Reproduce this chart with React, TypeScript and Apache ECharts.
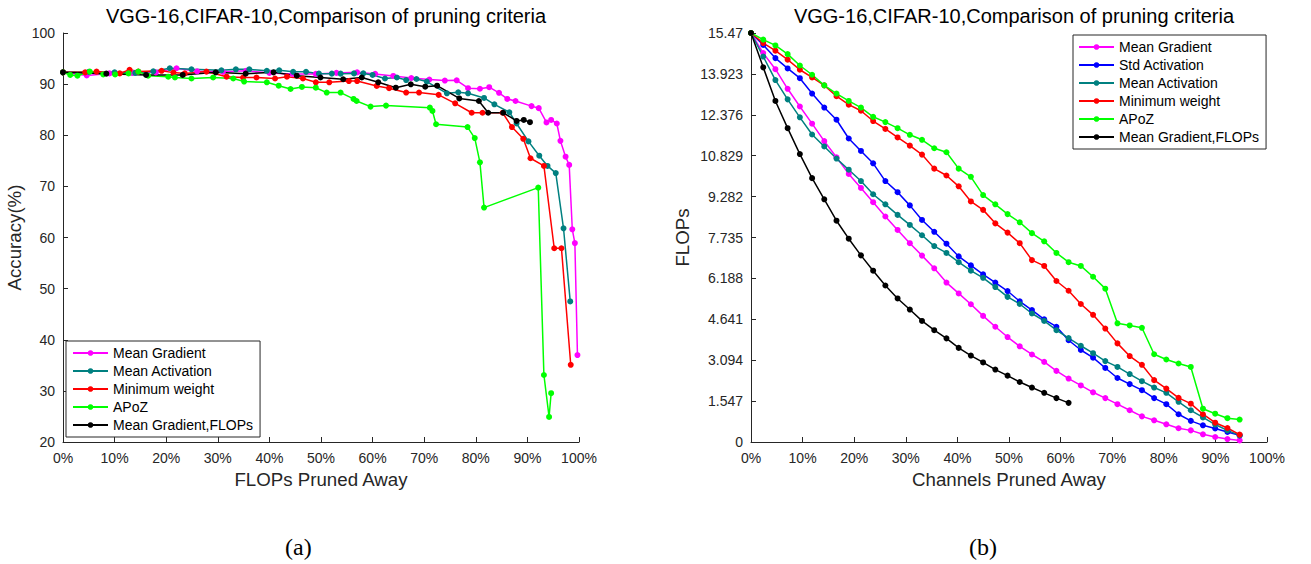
import React, { useEffect, useRef } from "react";
import * as echarts from "echarts";

// ---------- Left chart (a): accuracy vs FLOPs pruned away ----------
const leftSeriesNames = ["Mean Gradient", "Mean Activation", "Minimum weight", "APoZ", "Mean Gradient,FLOPs"];

const leftMeanGradient: number[][] = [
  [0, 92.3], [4.6, 91.7], [9, 92.1], [13.5, 92.2], [18, 92.3], [22, 93.1], [26, 92.5], [31, 92.4], [35.5, 92.6],
  [40, 92.2], [44.5, 92.0], [49, 92.0], [53, 92.2], [57, 92.3], [60.5, 92.0], [64, 91.6], [67.5, 91.2], [71, 90.9],
  [74, 90.7], [76.3, 90.75], [78.5, 89.2], [80.8, 89.1], [82.6, 89.4], [84.5, 88.3], [86.1, 87.1], [87.7, 86.7],
  [90.8, 85.7], [92.2, 85.3], [93.7, 82.5], [94.6, 83.0], [95.7, 82.3], [96.4, 78.9], [97.4, 75.8], [98.1, 74.2],
  [98.7, 61.6], [99.2, 58.9], [99.7, 37.0],
];
const leftMeanActivation: number[][] = [
  [0, 92.3], [5, 92.4], [10, 92.3], [14, 92.2], [17.5, 92.5], [20.7, 93.1], [24.9, 92.9], [30.7, 92.7], [33.5, 92.9],
  [36.1, 92.9], [39.5, 92.6], [41.9, 92.7], [44.6, 92.4], [47.1, 92.4], [49.6, 92.05], [52.1, 92.05], [53.8, 92.05],
  [56.4, 92.1], [58.2, 92.1], [60.0, 91.8], [62.4, 91.1], [64.7, 91.3], [66.5, 90.8], [68.5, 91.0], [70.5, 90.5],
  [74.4, 88.2], [76.6, 88.4], [78.5, 88.2], [81.6, 87.3], [83.6, 86.05], [86.5, 84.5], [87.9, 82.3], [90.2, 78.8],
  [92.3, 76.0], [93.9, 74.0], [95.5, 72.6], [97.0, 61.8], [98.3, 47.5],
];
const leftMinimumWeight: number[][] = [
  [0, 92.3], [4.3, 92.3], [6.5, 92.45], [11.0, 92.1], [12.9, 92.8], [14.6, 92.45], [19.1, 92.6], [21.4, 92.25],
  [23.6, 92.1], [27.8, 92.45], [31.7, 91.45], [34.9, 91.3], [37.5, 91.3], [41.1, 91.1], [43.4, 91.45], [46.5, 91.1],
  [49.0, 90.35], [51.6, 90.35], [55.4, 90.6], [57.0, 90.6], [60.8, 89.65], [63.2, 89.2], [66.5, 88.35], [69.0, 88.35],
  [72.8, 87.9], [76.0, 86.25], [79.2, 84.4], [81.3, 84.4], [85.2, 84.4], [87.0, 81.6], [89.2, 79.3], [90.6, 75.5],
  [93.2, 74.0], [95.2, 57.9], [96.6, 57.9], [98.4, 35.1],
];
const leftAPoZ: number[][] = [
  [0, 92.3], [1.4, 91.8], [2.8, 91.65], [5.2, 92.45], [7.8, 91.9], [10.1, 91.9], [12.7, 92.1], [14.6, 92.45],
  [16.5, 91.65], [20.4, 91.45], [21.7, 91.3], [24.9, 91.1], [29.1, 91.3], [33.0, 91.1], [35.1, 90.5], [39.5, 90.35],
  [41.8, 89.7], [44.1, 89.05], [46.3, 89.45], [49.0, 89.3], [51.1, 88.35], [53.8, 88.35], [56.3, 87.1], [56.9, 86.7],
  [59.6, 85.6], [62.6, 85.8], [71.1, 85.4], [71.6, 84.75], [72.3, 82.15], [78.4, 81.6], [79.8, 79.45], [80.8, 74.7],
  [81.6, 65.85], [92.1, 69.75], [93.2, 33.1], [94.2, 24.9], [94.6, 29.55],
];
const leftMeanGradientFlops: number[][] = [
  [0, 92.3], [8.4, 92.05], [16.1, 91.8], [23.2, 91.8], [29.6, 92.3], [35.4, 92.05], [40.8, 92.3], [45.3, 91.65],
  [49.9, 91.3], [54.3, 90.95], [57.9, 91.3], [61.1, 90.35], [64.5, 89.3], [67.4, 89.97], [70.2, 89.5], [72.5, 89.7],
  [76.8, 87.2], [80.6, 86.7], [82.4, 84.4], [85.3, 84.4], [87.9, 82.8], [89.3, 83.0], [90.5, 82.55],
];

// ---------- Right chart (b): FLOPs vs channels pruned away ----------
const rightSeriesNames = ["Mean Gradient", "Std Activation", "Mean Activation", "Minimum weight", "APoZ", "Mean Gradient,FLOPs"];

const channelsPct = [
  0, 2.37, 4.73, 7.1, 9.47, 11.84, 14.2, 16.57, 18.94, 21.31, 23.67, 26.04, 28.41, 30.78, 33.14, 35.51, 37.88, 40.25,
  42.61, 44.98, 47.35, 49.72, 52.08, 54.45, 56.82, 59.19, 61.55, 63.92, 66.29, 68.66, 71.02, 73.39, 75.76, 78.13,
  80.49, 82.86, 85.23, 87.59, 89.96, 92.33, 94.7,
];
const rightMeanGradient = [
  15.47, 14.71, 14.1, 13.36, 12.69, 12.04, 11.38, 10.77, 10.14, 9.61, 9.07, 8.53, 8.02, 7.52, 7.05, 6.57, 6.03, 5.62,
  5.21, 4.77, 4.36, 3.97, 3.62, 3.31, 3.03, 2.69, 2.4, 2.14, 1.88, 1.66, 1.43, 1.2, 0.97, 0.82, 0.67, 0.52, 0.44,
  0.29, 0.19, 0.11, 0.06,
];
const rightStdActivation = [
  15.47, 15.02, 14.52, 14.13, 13.76, 13.18, 12.65, 12.19, 11.48, 11.01, 10.54, 9.87, 9.45, 8.95, 8.4, 7.95, 7.5, 7.02,
  6.68, 6.34, 6.03, 5.71, 5.32, 4.99, 4.64, 4.36, 3.85, 3.48, 3.19, 2.8, 2.42, 2.19, 1.96, 1.66, 1.43, 1.05, 0.8,
  0.63, 0.51, 0.38, 0.25,
];
const rightMeanActivation = [
  15.47, 14.58, 13.69, 12.96, 12.28, 11.63, 11.18, 10.72, 10.3, 9.87, 9.37, 8.99, 8.59, 8.21, 7.82, 7.41, 7.15, 6.8,
  6.48, 6.21, 5.86, 5.49, 5.22, 4.86, 4.58, 4.23, 3.93, 3.64, 3.36, 3.06, 2.84, 2.57, 2.3, 2.06, 1.86, 1.52, 1.2,
  0.93, 0.66, 0.44, 0.25,
];
const rightMinimumWeight = [
  15.47, 15.09, 14.8, 14.46, 14.08, 13.79, 13.49, 13.08, 12.76, 12.53, 12.14, 11.84, 11.52, 11.21, 10.87, 10.34,
  10.08, 9.67, 9.1, 8.78, 8.27, 7.92, 7.52, 6.88, 6.66, 6.09, 5.72, 5.22, 4.81, 4.29, 3.73, 3.25, 2.92, 2.34, 2.02,
  1.67, 1.45, 1.05, 0.73, 0.53, 0.28,
];
const rightAPoZ = [
  15.47, 15.22, 15.0, 14.67, 14.24, 13.89, 13.49, 13.18, 12.9, 12.65, 12.3, 12.1, 11.87, 11.62, 11.43, 11.11, 10.96,
  10.34, 10.03, 9.34, 8.99, 8.62, 8.31, 7.9, 7.59, 7.15, 6.8, 6.66, 6.25, 5.8, 4.49, 4.41, 4.32, 3.32, 3.12, 2.97,
  2.84, 1.26, 1.07, 0.9, 0.85,
];
const rightMeanGradientFlops = [
  15.47, 14.17, 12.9, 11.87, 10.89, 9.98, 9.18, 8.37, 7.69, 7.06, 6.48, 5.92, 5.43, 5.01, 4.58, 4.23, 3.92, 3.56,
  3.27, 3.01, 2.74, 2.51, 2.27, 2.06, 1.86, 1.66, 1.48,
];

const titleText = "VGG-16,CIFAR-10,Comparison of pruning criteria";

const COLORS: Record<string, string> = {
  "Mean Gradient": "#ff00ff",
  "Std Activation": "#0000ff",
  "Mean Activation": "#008080",
  "Minimum weight": "#ff0000",
  APoZ: "#00ff00",
  "Mean Gradient,FLOPs": "#000000",
};

const FONT = "'Liberation Sans', Arial, Helvetica, sans-serif";
const AXIS_COLOR = "#262626";

function zipX(xs: number[], ys: number[]): number[][] {
  return ys.map((y, i) => [xs[i], y]);
}

function lineSeries(name: string, data: number[][], idx: number) {
  return {
    name,
    type: "line",
    xAxisIndex: idx,
    yAxisIndex: idx,
    data,
    symbol: "circle",
    symbolSize: 6,
    showSymbol: true,
    color: COLORS[name],
    lineStyle: { width: 1.5, color: COLORS[name] },
    itemStyle: { color: COLORS[name] },
    emphasis: { disabled: true },
  };
}

function baseAxis(extra: any) {
  return {
    axisLine: { show: true, onZero: false, lineStyle: { color: AXIS_COLOR, width: 1 } },
    axisTick: { show: true, inside: true, length: 5, lineStyle: { color: AXIS_COLOR } },
    splitLine: { show: false },
    axisLabel: { color: AXIS_COLOR, fontSize: 14, fontFamily: FONT, margin: 8 },
    nameTextStyle: { color: AXIS_COLOR, fontSize: 18.7, fontFamily: FONT },
    nameLocation: "middle",
    ...extra,
  };
}

export default function App() {
  const ref = useRef<HTMLDivElement>(null);

  useEffect(() => {
    if (!ref.current) return;
    const chart = echarts.init(ref.current, undefined, { renderer: "svg" });

    const titleStyle = { fontSize: 20, fontWeight: "normal", color: "#000", fontFamily: FONT };

    const option: any = {
      animation: false,
      backgroundColor: "#ffffff",
      textStyle: { fontFamily: FONT },
      title: [
        { text: titleText, left: 321, top: 1, textAlign: "center", textStyle: titleStyle },
        { text: titleText, left: 1009, top: 1, textAlign: "center", textStyle: titleStyle },
      ],
      grid: [
        { left: 63, top: 33, width: 516, height: 409, containLabel: false },
        { left: 751, top: 33, width: 516, height: 409, containLabel: false },
      ],
      xAxis: [
        baseAxis({
          type: "value",
          gridIndex: 0,
          min: 0,
          max: 100,
          interval: 10,
          name: "FLOPs Pruned Away",
          nameGap: 28,
          axisLabel: { color: AXIS_COLOR, fontSize: 14, fontFamily: FONT, margin: 9, formatter: "{value}%" },
        }),
        baseAxis({
          type: "value",
          gridIndex: 1,
          min: 0,
          max: 100,
          interval: 10,
          name: "Channels Pruned Away",
          nameGap: 28,
          axisLabel: { color: AXIS_COLOR, fontSize: 14, fontFamily: FONT, margin: 9, formatter: "{value}%" },
        }),
      ],
      yAxis: [
        baseAxis({
          type: "value",
          gridIndex: 0,
          min: 20,
          max: 100,
          interval: 10,
          name: "Accuracy(%)",
          nameGap: 39,
        }),
        baseAxis({
          type: "value",
          gridIndex: 1,
          min: 0,
          max: 15.47,
          interval: 1.547,
          name: "FLOPs",
          nameGap: 59,
          axisLabel: {
            color: AXIS_COLOR,
            fontSize: 14,
            fontFamily: FONT,
            margin: 8,
            formatter: (v: number) => (v === 0 ? "0" : String(parseFloat(v.toFixed(3)))),
          },
        }),
      ],
      legend: [
        {
          data: leftSeriesNames,
          left: 66,
          top: 341,
          orient: "vertical",
          itemWidth: 35,
          itemHeight: 7,
          itemGap: 4,
          padding: [5, 7, 5, 6],
          borderColor: AXIS_COLOR,
          borderWidth: 1,
          backgroundColor: "#ffffff",
          selectedMode: false,
          textStyle: { fontSize: 14, color: "#000", fontFamily: FONT },
        },
        {
          data: rightSeriesNames,
          left: 1073,
          top: 35,
          orient: "vertical",
          itemWidth: 35,
          itemHeight: 7,
          itemGap: 4,
          padding: [5, 7, 5, 5],
          borderColor: AXIS_COLOR,
          borderWidth: 1,
          backgroundColor: "#ffffff",
          selectedMode: false,
          textStyle: { fontSize: 14, color: "#000", fontFamily: FONT },
        },
      ],
      graphic: [
        {
          type: "text",
          left: 285,
          top: 535,
          style: { text: "(a)", fontSize: 24, fontFamily: "'Liberation Serif', 'DejaVu Serif', serif", fill: "#000" },
        },
        {
          type: "text",
          left: 969,
          top: 535,
          style: { text: "(b)", fontSize: 24, fontFamily: "'Liberation Serif', 'DejaVu Serif', serif", fill: "#000" },
        },
      ],
      series: [
        lineSeries("Mean Gradient", leftMeanGradient, 0),
        lineSeries("Mean Activation", leftMeanActivation, 0),
        lineSeries("Minimum weight", leftMinimumWeight, 0),
        lineSeries("APoZ", leftAPoZ, 0),
        lineSeries("Mean Gradient,FLOPs", leftMeanGradientFlops, 0),
        lineSeries("Mean Gradient", zipX(channelsPct, rightMeanGradient), 1),
        lineSeries("Std Activation", zipX(channelsPct, rightStdActivation), 1),
        lineSeries("Mean Activation", zipX(channelsPct, rightMeanActivation), 1),
        lineSeries("Minimum weight", zipX(channelsPct, rightMinimumWeight), 1),
        lineSeries("APoZ", zipX(channelsPct, rightAPoZ), 1),
        lineSeries("Mean Gradient,FLOPs", zipX(channelsPct, rightMeanGradientFlops), 1),
      ],
    };

    chart.setOption(option);
    return () => chart.dispose();
  }, []);

  return (
    <div
      ref={ref}
      style={{ position: "fixed", left: 0, top: 0, width: 1311, height: 564, background: "#fff" }}
    />
  );
}
